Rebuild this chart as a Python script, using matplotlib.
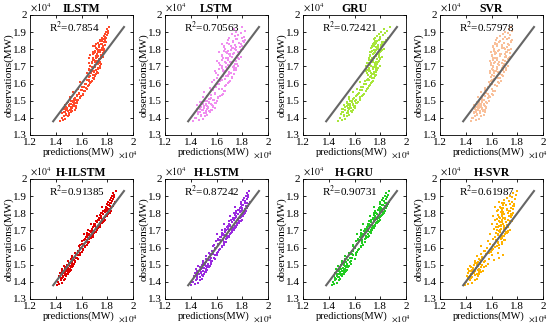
import matplotlib
matplotlib.use("Agg")
import matplotlib.pyplot as plt
from matplotlib.ticker import FuncFormatter, MultipleLocator
import numpy as np

plt.rcParams['font.family'] = ['Liberation Serif', 'DejaVu Serif']
plt.rcParams['mathtext.fontset'] = 'stix'

# observations (x10^4 MW), shared test set (two halves)
OBS_A = [
1.381,1.386,1.392,1.401,1.408,1.413,1.419,1.424,1.428,1.433,
1.437,1.441,1.445,1.448,1.452,1.455,1.459,1.462,1.466,1.469,
1.473,1.476,1.480,1.484,1.488,1.492,1.496,1.501,1.506,1.511,
1.517,1.523,1.529,1.535,1.541,1.548,1.554,1.561,1.567,1.574,
1.581,1.588,1.595,1.602,1.609,1.616,1.623,1.630,1.637,1.644,
1.651,1.657,1.663,1.669,1.675,1.681,1.687,1.693,1.699,1.705,
1.711,1.717,1.722,1.727,1.732,1.737,1.742,1.747,1.752,1.757,
1.762,1.767,1.772,1.777,1.782,1.787,1.792,1.797,1.802,1.807,
1.812,1.817,1.822,1.827,1.832,1.837,1.842,1.848,1.853,1.858,
1.864,1.870,1.876,1.882,1.888,1.894,1.900,1.908,1.917,1.928]
OBS_B = [
1.398,1.415,1.427,1.434,1.439,1.443,1.447,1.451,1.454,1.458,
1.461,1.464,1.468,1.471,1.475,1.479,1.483,1.487,1.491,1.495,
1.499,1.504,1.509,1.514,1.520,1.526,1.533,1.540,1.547,1.555,
1.563,1.571,1.579,1.590,1.600,1.612,1.622,1.633,1.642,1.652,
1.660,1.667,1.674,1.680,1.686,1.692,1.698,1.703,1.708,1.713,
1.718,1.723,1.728,1.733,1.738,1.743,1.748,1.753,1.758,1.763,
1.768,1.773,1.778,1.783,1.788,1.793,1.798,1.803,1.808,1.813,
1.818,1.823,1.828,1.833,1.838,1.843,1.850,1.856,1.862,1.868,
1.655,1.672,1.690,1.705,1.720,1.738,1.755,1.770,1.785,1.800,
1.615,1.628,1.645,1.662,1.680,1.700,1.725,1.750,1.775,1.815]

PRED_ILSTM = [
1.432,1.455,1.470,1.448,1.492,1.463,1.505,1.478,1.451,1.520,
1.468,1.497,1.482,1.512,1.459,1.530,1.488,1.515,1.473,1.541,
1.502,1.533,1.519,1.550,1.487,1.562,1.528,1.545,1.575,1.508,
1.548,1.590,1.565,1.612,1.580,1.532,1.623,1.597,1.571,1.636,
1.605,1.652,1.628,1.667,1.590,1.681,1.643,1.695,1.662,1.707,
1.688,1.715,1.673,1.722,1.698,1.655,1.731,1.690,1.708,1.667,
1.702,1.728,1.682,1.745,1.716,1.693,1.738,1.661,1.751,1.724,
1.712,1.748,1.689,1.765,1.731,1.704,1.772,1.743,1.720,1.758,
1.736,1.768,1.708,1.781,1.752,1.725,1.790,1.762,1.744,1.775,
1.758,1.785,1.771,1.796,1.780,1.802,1.790,1.808,1.795,1.812,
1.445,1.478,1.505,1.462,1.530,1.490,1.548,1.472,1.515,1.560,
1.482,1.525,1.500,1.555,1.470,1.540,1.512,1.568,1.495,1.535,
1.522,1.560,1.540,1.585,1.510,1.598,1.565,1.615,1.580,1.625,
1.600,1.642,1.618,1.660,1.635,1.672,1.655,1.690,1.668,1.700,
1.640,1.695,1.672,1.712,1.660,1.725,1.685,1.740,1.705,1.750,
1.655,1.702,1.678,1.730,1.690,1.745,1.712,1.762,1.725,1.752,
1.668,1.720,1.698,1.742,1.705,1.758,1.732,1.775,1.715,1.768,
1.690,1.735,1.712,1.758,1.728,1.772,1.745,1.785,1.762,1.790,
1.710,1.690,1.745,1.668,1.735,1.700,1.770,1.722,1.688,1.758,
1.662,1.695,1.705,1.728,1.672,1.742,1.718,1.690,1.765,1.735]

PRED_LSTM = [
1.420,1.462,1.495,1.441,1.512,1.478,1.530,1.455,1.500,1.548,
1.470,1.522,1.488,1.558,1.445,1.537,1.505,1.572,1.480,1.528,
1.515,1.562,1.498,1.585,1.540,1.470,1.600,1.525,1.577,1.553,
1.560,1.612,1.530,1.640,1.590,1.505,1.655,1.575,1.620,1.548,
1.588,1.665,1.622,1.690,1.565,1.705,1.640,1.602,1.720,1.675,
1.612,1.735,1.660,1.700,1.585,1.748,1.682,1.640,1.725,1.695,
1.630,1.758,1.672,1.712,1.605,1.740,1.690,1.765,1.650,1.722,
1.645,1.770,1.700,1.735,1.620,1.782,1.688,1.752,1.668,1.718,
1.662,1.795,1.710,1.745,1.640,1.778,1.728,1.802,1.690,1.760,
1.700,1.812,1.742,1.768,1.720,1.790,1.755,1.820,1.735,1.800,
1.432,1.480,1.515,1.455,1.545,1.498,1.565,1.470,1.528,1.585,
1.470,1.535,1.505,1.575,1.452,1.555,1.518,1.598,1.490,1.545,
1.510,1.572,1.540,1.612,1.495,1.630,1.555,1.648,1.585,1.665,
1.560,1.640,1.595,1.675,1.612,1.700,1.580,1.718,1.652,1.690,
1.598,1.700,1.650,1.735,1.620,1.755,1.672,1.768,1.690,1.745,
1.618,1.712,1.665,1.752,1.640,1.775,1.690,1.790,1.705,1.760,
1.640,1.728,1.680,1.770,1.655,1.792,1.712,1.805,1.725,1.780,
1.662,1.745,1.700,1.788,1.685,1.812,1.730,1.825,1.752,1.798,
1.700,1.660,1.738,1.642,1.712,1.690,1.760,1.705,1.672,1.742,
1.630,1.668,1.692,1.715,1.650,1.735,1.702,1.675,1.772,1.748]

PRED_GRU = [
1.470,1.502,1.525,1.488,1.545,1.515,1.560,1.495,1.538,1.578,
1.512,1.552,1.530,1.585,1.505,1.570,1.548,1.598,1.525,1.562,
1.548,1.590,1.565,1.612,1.540,1.625,1.580,1.605,1.640,1.560,
1.598,1.645,1.612,1.668,1.630,1.585,1.690,1.655,1.620,1.705,
1.650,1.712,1.675,1.728,1.640,1.745,1.695,1.735,1.718,1.760,
1.702,1.752,1.725,1.768,1.690,1.778,1.740,1.715,1.762,1.730,
1.722,1.770,1.700,1.785,1.745,1.712,1.778,1.735,1.795,1.755,
1.718,1.768,1.740,1.792,1.730,1.760,1.802,1.748,1.775,1.725,
1.735,1.782,1.752,1.805,1.742,1.770,1.815,1.760,1.790,1.748,
1.758,1.800,1.775,1.822,1.790,1.840,1.805,1.850,1.830,1.875,
1.485,1.520,1.548,1.500,1.572,1.530,1.590,1.510,1.558,1.605,
1.528,1.568,1.545,1.600,1.515,1.585,1.555,1.618,1.538,1.580,
1.565,1.610,1.588,1.640,1.558,1.655,1.620,1.672,1.635,1.690,
1.645,1.698,1.668,1.722,1.690,1.738,1.710,1.752,1.728,1.765,
1.700,1.752,1.722,1.770,1.712,1.782,1.740,1.795,1.760,1.778,
1.712,1.765,1.738,1.788,1.725,1.800,1.755,1.812,1.770,1.792,
1.722,1.775,1.748,1.798,1.735,1.815,1.768,1.828,1.785,1.805,
1.738,1.785,1.760,1.810,1.752,1.830,1.778,1.842,1.800,1.860,
1.735,1.712,1.768,1.690,1.760,1.728,1.792,1.745,1.718,1.782,
1.680,1.705,1.725,1.752,1.700,1.770,1.742,1.715,1.790,1.765]

PRED_SVR = [
1.440,1.478,1.500,1.455,1.522,1.470,1.538,1.490,1.462,1.548,
1.480,1.512,1.495,1.545,1.468,1.530,1.505,1.558,1.485,1.520,
1.498,1.540,1.515,1.568,1.505,1.555,1.528,1.580,1.545,1.515,
1.530,1.590,1.552,1.612,1.572,1.520,1.625,1.565,1.600,1.548,
1.575,1.640,1.602,1.660,1.580,1.675,1.618,1.650,1.598,1.690,
1.600,1.668,1.622,1.700,1.590,1.712,1.640,1.685,1.615,1.725,
1.598,1.652,1.620,1.718,1.585,1.690,1.640,1.735,1.610,1.705,
1.605,1.665,1.630,1.742,1.595,1.712,1.648,1.725,1.620,1.695,
1.615,1.680,1.645,1.735,1.625,1.700,1.660,1.748,1.632,1.718,
1.640,1.705,1.668,1.740,1.690,1.725,1.702,1.758,1.735,1.752,
1.450,1.488,1.512,1.465,1.535,1.478,1.552,1.498,1.525,1.560,
1.475,1.520,1.502,1.548,1.462,1.538,1.510,1.565,1.490,1.528,
1.505,1.545,1.525,1.570,1.498,1.582,1.540,1.600,1.560,1.612,
1.548,1.600,1.570,1.630,1.585,1.648,1.605,1.665,1.622,1.680,
1.592,1.652,1.618,1.690,1.605,1.712,1.640,1.728,1.660,1.700,
1.595,1.662,1.625,1.705,1.610,1.725,1.645,1.740,1.668,1.715,
1.602,1.670,1.632,1.718,1.618,1.738,1.655,1.752,1.680,1.722,
1.612,1.682,1.642,1.728,1.628,1.748,1.665,1.760,1.692,1.735,
1.655,1.632,1.692,1.610,1.680,1.645,1.712,1.665,1.625,1.702,
1.598,1.622,1.640,1.668,1.612,1.690,1.655,1.630,1.708,1.680]

PRED_HILSTM = [
1.410,1.425,1.445,1.418,1.462,1.438,1.475,1.450,1.430,1.482,
1.458,1.480,1.470,1.495,1.448,1.505,1.472,1.512,1.465,1.520,
1.488,1.510,1.498,1.525,1.482,1.535,1.505,1.528,1.545,1.500,
1.530,1.552,1.540,1.575,1.560,1.525,1.590,1.568,1.548,1.600,
1.575,1.612,1.598,1.630,1.580,1.645,1.620,1.658,1.605,1.640,
1.628,1.670,1.645,1.688,1.660,1.622,1.700,1.675,1.690,1.650,
1.680,1.715,1.692,1.735,1.705,1.670,1.745,1.722,1.760,1.712,
1.728,1.760,1.742,1.785,1.752,1.720,1.795,1.770,1.748,1.802,
1.768,1.800,1.782,1.815,1.790,1.760,1.825,1.805,1.795,1.830,
1.805,1.835,1.818,1.845,1.828,1.850,1.838,1.855,1.848,1.865,
1.418,1.440,1.460,1.428,1.475,1.448,1.488,1.435,1.465,1.495,
1.450,1.485,1.468,1.505,1.445,1.498,1.475,1.515,1.462,1.508,
1.490,1.525,1.508,1.548,1.498,1.535,1.520,1.562,1.530,1.570,
1.555,1.592,1.570,1.615,1.585,1.625,1.600,1.640,1.618,1.660,
1.635,1.672,1.650,1.690,1.642,1.702,1.665,1.718,1.680,1.725,
1.690,1.728,1.705,1.745,1.698,1.758,1.720,1.772,1.735,1.780,
1.738,1.772,1.752,1.790,1.745,1.805,1.765,1.818,1.782,1.828,
1.785,1.815,1.800,1.832,1.792,1.845,1.812,1.852,1.825,1.860,
1.672,1.645,1.712,1.680,1.742,1.705,1.770,1.740,1.795,1.760,
1.585,1.650,1.620,1.690,1.660,1.718,1.700,1.765,1.738,1.795]

PRED_HLSTM = [
1.405,1.430,1.455,1.415,1.470,1.440,1.485,1.448,1.425,1.495,
1.450,1.488,1.465,1.505,1.442,1.515,1.478,1.522,1.460,1.530,
1.480,1.518,1.495,1.540,1.475,1.548,1.510,1.535,1.560,1.495,
1.520,1.565,1.538,1.590,1.555,1.515,1.605,1.572,1.545,1.612,
1.565,1.622,1.590,1.645,1.572,1.660,1.610,1.672,1.598,1.648,
1.615,1.680,1.638,1.700,1.655,1.605,1.712,1.668,1.695,1.640,
1.665,1.725,1.690,1.748,1.705,1.655,1.760,1.720,1.772,1.700,
1.715,1.770,1.740,1.792,1.752,1.705,1.805,1.765,1.738,1.812,
1.748,1.795,1.770,1.818,1.782,1.745,1.828,1.800,1.790,1.835,
1.790,1.822,1.805,1.838,1.815,1.842,1.830,1.848,1.840,1.855,
1.412,1.445,1.470,1.425,1.488,1.452,1.500,1.432,1.478,1.510,
1.448,1.495,1.470,1.515,1.440,1.505,1.478,1.528,1.460,1.520,
1.485,1.535,1.510,1.560,1.495,1.548,1.522,1.578,1.540,1.585,
1.550,1.605,1.575,1.630,1.590,1.642,1.610,1.658,1.625,1.675,
1.625,1.685,1.650,1.705,1.640,1.718,1.668,1.735,1.688,1.742,
1.682,1.740,1.705,1.762,1.695,1.775,1.722,1.788,1.738,1.795,
1.728,1.782,1.750,1.800,1.742,1.815,1.765,1.825,1.785,1.832,
1.772,1.820,1.795,1.835,1.788,1.845,1.808,1.852,1.822,1.858,
1.680,1.640,1.718,1.672,1.748,1.700,1.775,1.735,1.802,1.755,
1.578,1.655,1.612,1.695,1.652,1.722,1.690,1.772,1.730,1.790]

PRED_HGRU = [
1.425,1.440,1.462,1.432,1.478,1.450,1.490,1.445,1.468,1.500,
1.465,1.498,1.478,1.515,1.455,1.525,1.488,1.532,1.470,1.540,
1.495,1.528,1.510,1.550,1.490,1.558,1.520,1.545,1.570,1.505,
1.532,1.575,1.548,1.600,1.565,1.528,1.615,1.582,1.555,1.622,
1.578,1.630,1.602,1.652,1.585,1.668,1.622,1.680,1.610,1.658,
1.628,1.690,1.650,1.712,1.665,1.618,1.725,1.680,1.705,1.652,
1.678,1.735,1.700,1.758,1.718,1.668,1.770,1.730,1.782,1.712,
1.728,1.778,1.752,1.800,1.762,1.718,1.812,1.775,1.750,1.820,
1.758,1.805,1.780,1.825,1.792,1.755,1.835,1.810,1.798,1.842,
1.800,1.830,1.815,1.845,1.825,1.850,1.838,1.858,1.848,1.870,
1.430,1.455,1.478,1.440,1.495,1.462,1.505,1.448,1.485,1.515,
1.462,1.502,1.480,1.522,1.455,1.512,1.490,1.535,1.472,1.528,
1.498,1.540,1.518,1.562,1.505,1.552,1.530,1.580,1.545,1.588,
1.562,1.610,1.585,1.635,1.598,1.648,1.618,1.662,1.632,1.680,
1.640,1.688,1.660,1.708,1.650,1.722,1.675,1.738,1.695,1.748,
1.695,1.742,1.715,1.762,1.705,1.778,1.730,1.792,1.748,1.800,
1.742,1.788,1.760,1.805,1.752,1.818,1.775,1.830,1.795,1.838,
1.790,1.828,1.808,1.842,1.800,1.852,1.820,1.860,1.835,1.868,
1.690,1.652,1.725,1.682,1.752,1.712,1.782,1.745,1.808,1.765,
1.592,1.662,1.625,1.702,1.665,1.730,1.705,1.778,1.742,1.798]

PRED_HSVR = [
1.395,1.420,1.450,1.405,1.468,1.432,1.485,1.440,1.415,1.498,
1.430,1.472,1.448,1.502,1.418,1.520,1.460,1.535,1.440,1.512,
1.455,1.505,1.478,1.540,1.440,1.555,1.490,1.530,1.570,1.470,
1.495,1.548,1.512,1.580,1.530,1.485,1.600,1.560,1.650,1.598,
1.540,1.600,1.562,1.628,1.520,1.660,1.590,1.685,1.575,1.705,
1.610,1.672,1.628,1.700,1.650,1.590,1.718,1.665,1.730,1.640,
1.620,1.695,1.648,1.730,1.670,1.605,1.745,1.685,1.712,1.660,
1.630,1.705,1.665,1.750,1.680,1.615,1.762,1.700,1.728,1.672,
1.640,1.718,1.678,1.765,1.692,1.630,1.775,1.710,1.740,1.685,
1.660,1.735,1.700,1.780,1.720,1.758,1.742,1.790,1.770,1.800,
1.400,1.425,1.452,1.412,1.470,1.438,1.488,1.418,1.462,1.505,
1.428,1.470,1.445,1.498,1.415,1.482,1.455,1.515,1.435,1.495,
1.465,1.512,1.488,1.545,1.472,1.620,1.505,1.655,1.530,1.690,
1.520,1.582,1.548,1.615,1.660,1.640,1.682,1.652,1.700,1.675,
1.625,1.682,1.648,1.705,1.638,1.725,1.660,1.742,1.672,1.715,
1.632,1.695,1.655,1.722,1.645,1.740,1.668,1.758,1.680,1.730,
1.640,1.705,1.662,1.735,1.652,1.752,1.678,1.768,1.690,1.745,
1.650,1.718,1.672,1.748,1.665,1.765,1.688,1.778,1.700,1.760,
1.678,1.650,1.712,1.665,1.730,1.690,1.742,1.702,1.755,1.725,
1.610,1.652,1.632,1.680,1.648,1.698,1.672,1.712,1.690,1.738]

TITLES = ["ILSTM", "LSTM", "GRU", "SVR", "H-ILSTM", "H-LSTM", "H-GRU", "H-SVR"]
R2 = ["0.7854", "0.70563", "0.72421", "0.57978", "0.91385", "0.87242", "0.90731", "0.61987"]
PREDS = [PRED_ILSTM, PRED_LSTM, PRED_GRU, PRED_SVR,
         PRED_HILSTM, PRED_HLSTM, PRED_HGRU, PRED_HSVR]
COLORS = ["#FF4A2A", "#F08EF0", "#A8E63A", "#F9C09A",
          "#E00000", "#9A2AE0", "#22CC22", "#FFB200"]
REF_LINE = [1.38, 1.93]
SCALE = 1e4

fig = plt.figure(figsize=(5.5, 3.29), dpi=100)
W, H = 550.0, 329.0
lefts = [30, 165, 303, 440]
tops = [15, 179]
aw, ah = 103, 120

fmt = FuncFormatter(lambda v, p: f"{v / SCALE:g}")
obs = np.array(OBS_A + OBS_B) * SCALE
for i in range(8):
    r, c = divmod(i, 4)
    ax = fig.add_axes([lefts[c] / W, 1 - (tops[r] + ah) / H, aw / W, ah / H])
    x = np.array(PREDS[i]) * SCALE
    ax.scatter(x, obs, s=3.5, c=COLORS[i], marker='s', linewidths=0, zorder=2)
    ln = np.array(REF_LINE) * SCALE
    ax.plot(ln, ln, color="#666666", lw=1.5, zorder=3)
    ax.set_xlim(1.2 * SCALE, 2.0 * SCALE)
    ax.set_ylim(1.3 * SCALE, 2.0 * SCALE)
    ax.xaxis.set_major_locator(MultipleLocator(0.2 * SCALE))
    ax.yaxis.set_major_locator(MultipleLocator(0.1 * SCALE))
    ax.xaxis.set_major_formatter(fmt)
    ax.yaxis.set_major_formatter(fmt)
    ax.tick_params(direction='in', length=2.5, width=0.6, labelsize=8,
                   top=True, right=True, pad=2)
    for s in ax.spines.values():
        s.set_linewidth(0.6)
    ax.set_title(TITLES[i], fontsize=8.5, fontweight='bold', pad=2)
    ax.set_xlabel("predictions(MW)", fontsize=7.5, labelpad=1)
    ax.xaxis.set_label_coords(0.47, -0.105)
    ax.set_ylabel("observations(MW)", fontsize=8, labelpad=0)
    ax.text(0.18, 0.9, "R$^2$=" + R2[i], transform=ax.transAxes,
            fontsize=8, ha='left', va='center')
    ax.text(0.0, 1.01, r"$\times10^4$", transform=ax.transAxes,
            fontsize=7, ha='left', va='bottom')
    ax.text(1.05, -0.165, r"$\times10^4$", transform=ax.transAxes,
            fontsize=6.5, ha='right', va='center')

fig.savefig("out.png", dpi=100)
